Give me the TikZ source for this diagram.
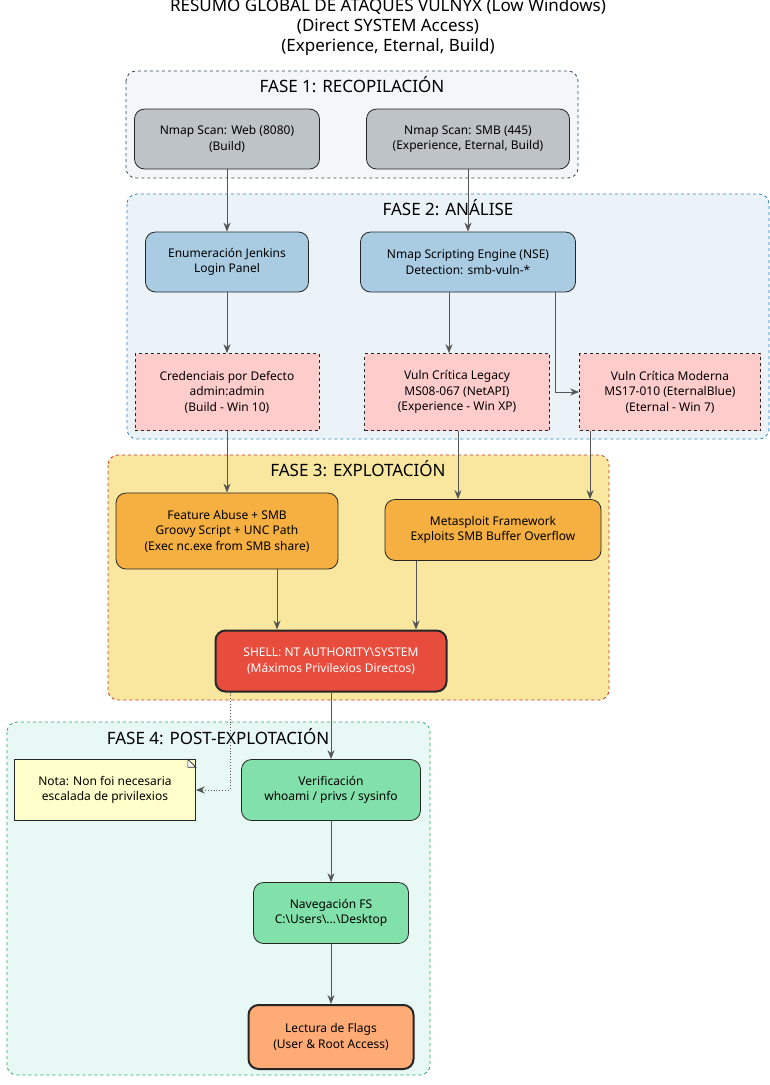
\documentclass[tikz,border=0pt]{standalone}
\usepackage{fontspec}
\setmainfont{Noto Sans}
\usetikzlibrary{arrows.meta}

\definecolor{cgray}{HTML}{BDC3C7}
\definecolor{cblue}{HTML}{A9CCE3}
\definecolor{cpink}{HTML}{FFCCCC}
\definecolor{corange}{HTML}{F5B041}
\definecolor{cred}{HTML}{E74C3C}
\definecolor{cgreen}{HTML}{82E0AA}
\definecolor{cflag}{HTML}{FFAB76}
\definecolor{cnote}{HTML}{FFFFCC}
\definecolor{cline}{HTML}{555555}
\definecolor{f1line}{HTML}{34495E}
\definecolor{f1fill}{HTML}{F4F6F8}
\definecolor{f2line}{HTML}{2E86C1}
\definecolor{f2fill}{HTML}{EBF3F8}
\definecolor{f3line}{HTML}{C0392B}
\definecolor{f3fill}{HTML}{F9E79F}
\definecolor{f4line}{HTML}{27AE60}
\definecolor{f4fill}{HTML}{E8F8F5}

\tikzset{
  box/.style={draw=black!85,rounded corners=10pt,align=center,font=\fontsize{12}{15.5}\selectfont,line width=0.8pt},
  vuln/.style={draw=black!85,dashed,fill=cpink,align=center,font=\fontsize{12}{15.5}\selectfont,line width=0.7pt},
  fase/.style={rounded corners=10pt,dashed,line width=0.8pt},
  ftitle/.style={font=\fontsize{17}{20}\selectfont},
  flow/.style={-{Stealth[length=9pt,width=7pt]},draw=cline,line width=0.9pt}
}

\begin{document}
\begin{tikzpicture}[x=1pt,y=-1pt]
\useasboundingbox[fill=white] (0,0) rectangle (770,1085);
% titulo
\node[align=center,font=\fontsize{17}{20}\selectfont] (title) at (388,27) {RESUMO GLOBAL DE ATAQUES VULNYX (Low Windows)\\(Direct SYSTEM Access)\\(Experience, Eternal, Build)};
% fases
\draw[fase,draw=f1line,fill=f1fill] (126,71) rectangle (578,178);
\draw[fase,draw=f2line,fill=f2fill] (127,194) rectangle (769,439);
\draw[fase,draw=f3line,fill=f3fill] (108,455) rectangle (609,700);
\draw[fase,draw=f4line,fill=f4fill] (7,722) rectangle (430,1075);
\node[ftitle] (f1) at (352,85) {FASE 1: RECOPILACIÓN};
\node[ftitle] (f2) at (448,208) {FASE 2: ANÁLISE};
\node[ftitle] (f3) at (358,469) {FASE 3: EXPLOTACIÓN};
\node[ftitle] (f4) at (218,737) {FASE 4: POST-EXPLOTACIÓN};
% fase 1
\node[box,fill=cgray,minimum width=185pt,minimum height=60pt] (web) at (227,139) {Nmap Scan: Web (8080)\\(Build)};
\node[box,fill=cgray,minimum width=203pt,minimum height=60pt] (smb) at (468,139) {Nmap Scan: SMB (445)\\(Experience, Eternal, Build)};
% fase 2
\node[box,fill=cblue,minimum width=163pt,minimum height=60pt] (jenkins) at (227,262) {Enumeración Jenkins\\Login Panel};
\node[box,fill=cblue,minimum width=215pt,minimum height=60pt] (nse) at (468,262) {Nmap Scripting Engine (NSE)\\Detection: smb-vuln-*};
\node[vuln,minimum width=184pt,minimum height=77pt] (cred) at (227,392) {Credenciais por Defecto\\admin:admin\\(Build - Win 10)};
\node[vuln,minimum width=185pt,minimum height=77pt] (legacy) at (457,392) {Vuln Crítica Legacy\\MS08-067 (NetAPI)\\(Experience - Win XP)};
\node[vuln,minimum width=181pt,minimum height=77pt] (modern) at (670,392) {Vuln Crítica Moderna\\MS17-010 (EternalBlue)\\(Eternal - Win 7)};
% fase 3
\node[box,fill=corange,minimum width=222pt,minimum height=76pt] (feature) at (227,531) {Feature Abuse + SMB\\Groovy Script + UNC Path\\(Exec nc.exe from SMB share)};
\node[box,fill=corange,minimum width=216pt,minimum height=61pt] (meta) at (493,530) {Metasploit Framework\\Exploits SMB Buffer Overflow};
\node[box,fill=cred,text=white,line width=2pt,minimum width=231pt,minimum height=61pt] (shell) at (331,661) {SHELL: NT AUTHORITY\textbackslash SYSTEM\\(Máximos Privilexios Directos)};
% fase 4
\node[draw=black!85,fill=cnote,align=center,font=\fontsize{12}{15.5}\selectfont,minimum width=181pt,minimum height=61pt,line width=0.7pt] (note) at (105,790) {Nota: Non foi necesaria\\escalada de privilexios};
\node[box,fill=cgreen,minimum width=179pt,minimum height=61pt] (verif) at (331,790) {Verificación\\whoami / privs / sysinfo};
\node[box,fill=cgreen,minimum width=155pt,minimum height=61pt] (nav) at (331,913) {Navegación FS\\C:\textbackslash Users\textbackslash ...\textbackslash Desktop};
\node[box,fill=cflag,line width=2pt,minimum width=165pt,minimum height=64pt] (flags) at (331,1037) {Lectura de Flags\\(User \& Root Access)};
% esquina dobrada da nota
\draw[black!85,line width=0.7pt,fill=white] ([xshift=-8pt]note.north east) -- ([yshift=-8pt]note.north east) -- ([xshift=-8pt,yshift=-8pt]note.north east) -- cycle;
% conexions
\draw[flow] (web) -- (jenkins);
\draw[flow] (smb) -- (nse);
\draw[flow] (jenkins) -- (cred);
\draw[flow] (449,0 |- nse.south) -- (449,0 |- legacy.north);
\draw[flow] (555,0 |- nse.south) |- (modern.west);
\draw[flow] (cred) -- (feature);
\draw[flow] (458,0 |- legacy.south) -- (458,0 |- meta.north);
\draw[flow] (590,0 |- modern.south) -- (590,0 |- meta.north);
\draw[flow] (277,0 |- feature.south) -- (277,0 |- shell.north);
\draw[flow] (416,0 |- meta.south) -- (416,0 |- shell.north);
\draw[flow] (shell) -- (verif);
\draw[flow,dotted] (230,0 |- shell.south) |- (note.east);
\draw[flow] (verif) -- (nav);
\draw[flow] (nav) -- (flags);
\end{tikzpicture}
\end{document}
